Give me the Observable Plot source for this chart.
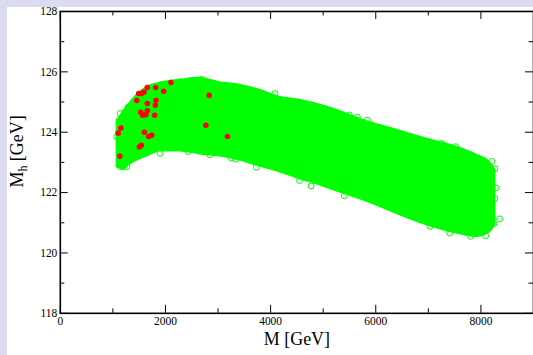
<!DOCTYPE html>
<html>
<head>
<meta charset="utf-8">
<script src="https://cdn.jsdelivr.net/npm/d3@7"></script>
<script src="https://cdn.jsdelivr.net/npm/@observablehq/plot@0.6"></script>
<style>
  html, body { margin: 0; padding: 0; background: #dcdcf0; overflow: hidden; width: 533px; height: 355px; }
  #chart { position: absolute; left: 7px; top: 7px; width: 526px; height: 348px; background: white; }
  #chart svg { overflow: visible; }
</style>
</head>
<body>
<div id="chart"></div>
<script>
// Envelope of the dense green scan
const bandX  = [1081,1137,1194,1327,1460,1649,1896,2275,2654,3033,3412,3791,4171,4550,4929,5251,5744,6313,6957,7583,7905,8151,8265];
const bandHi = [124.40,124.50,124.67,124.96,125.23,125.49,125.62,125.72,125.79,125.64,125.56,125.39,125.16,125.06,124.90,124.73,124.40,124.11,123.78,123.48,123.25,123.02,122.75];
const bandLo = [122.85,122.82,122.79,122.95,123.08,123.21,123.38,123.38,123.28,123.21,123.08,122.88,122.69,122.46,122.26,122.06,121.77,121.37,120.94,120.64,120.54,120.67,120.94];

// Individually visible green open circles along the edge
const edgeX = [8355,8265,4082,5498,5650,5839,7520,7255,8208,8284,8265,8246,8089,7805,7406,7033,3729,3336,4550,4771,5403,1137,1264,1074,1137,1295,2464,2686,2275,2906,1200,1896,2432,2844,3255];
const edgeY = [121.13,122.79,125.28,124.57,124.50,124.40,123.52,123.63,123.03,122.16,121.80,120.97,120.57,120.55,120.66,120.88,122.84,123.11,122.40,122.22,121.89,122.86,122.86,123.85,124.62,124.84,125.70,125.75,125.67,125.61,122.86,123.30,123.36,123.25,123.14];

// Red points
const redX = [2104,1655,1814,1492,1549,1592,1966,1454,1820,1655,1807,1655,1530,1568,1625,1795,2830,2768,3179,1151,1100,1598,1681,1738,1541,1503,1132];
const redY = [125.65,125.48,125.48,125.28,125.28,125.33,125.36,125.05,125.06,124.95,124.89,124.71,124.66,124.56,124.58,124.56,125.22,124.23,123.86,124.14,123.97,124.00,123.86,123.90,123.57,123.51,123.20];

const xMajor = [0,2000,4000,6000,8000];
const xMinor = [1000,3000,5000,7000];
const yMajor = [118,120,122,124,126,128];
const yMinor = [119,121,123,125,127];

const band = bandX.map((x,i)=>({x, lo: bandLo[i], hi: bandHi[i]}));
const edge = edgeX.map((x,i)=>({x, y: edgeY[i]}));
const red = redX.map((x,i)=>({x, y: redY[i]}));

const W = 528, H = 348, mL = 53, mR = 0, mT = 4, mB = 41;
const iw = W - mL - mR, ih = H - mT - mB;
const font = "'Liberation Serif', 'Times New Roman', serif";
const green = "#00ff00";

const plot = Plot.plot({
  width: W, height: H,
  marginLeft: mL, marginRight: mR, marginTop: mT, marginBottom: mB,
  style: {fontFamily: font, background: "white", overflow: "visible"},
  x: {domain: [0, 9000], label: null},
  y: {domain: [118, 128], label: null},
  marks: [
    Plot.areaY(band, {x: "x", y1: "lo", y2: "hi", fill: green, stroke: green, strokeWidth: 2, curve: "monotone-x"}),
    Plot.dot(edge, {x: "x", y: "y", r: 3, stroke: green, strokeWidth: 1, fill: "none"}),
    Plot.dot(red, {x: "x", y: "y", r: 2.8, fill: "#ff0000", stroke: "none"}),
    Plot.tickX(xMajor, {x: d => d, insetTop: ih - 8, stroke: "black", strokeWidth: 1}),
    Plot.tickX(xMajor, {x: d => d, insetBottom: ih - 8, stroke: "black", strokeWidth: 1}),
    Plot.tickX(xMinor, {x: d => d, insetTop: ih - 4.5, stroke: "black", strokeWidth: 1}),
    Plot.tickX(xMinor, {x: d => d, insetBottom: ih - 4.5, stroke: "black", strokeWidth: 1}),
    Plot.tickY(yMajor, {y: d => d, insetRight: iw - 8, stroke: "black", strokeWidth: 1}),
    Plot.tickY(yMajor, {y: d => d, insetLeft: iw - 8, stroke: "black", strokeWidth: 1}),
    Plot.tickY(yMinor, {y: d => d, insetRight: iw - 4.5, stroke: "black", strokeWidth: 1}),
    Plot.tickY(yMinor, {y: d => d, insetLeft: iw - 4.5, stroke: "black", strokeWidth: 1}),
    Plot.frame({stroke: "black", strokeWidth: 1.6}),
    Plot.axisX({ticks: xMajor, tickSize: 0, tickPadding: 3.5, fontSize: 11.5, fontFamily: font, fill: "black", label: null, tickFormat: d => String(d)}),
    Plot.axisY({ticks: yMajor, tickSize: 0, tickPadding: 3, fontSize: 11.5, fontFamily: font, fill: "black", label: null, tickFormat: d => String(d)}),
    Plot.text(["M [GeV]"], {frameAnchor: "bottom", dy: 32, text: d => d, fontSize: 18, fontFamily: font, fill: "black"})
  ]
});

document.getElementById("chart").appendChild(plot);

// y-axis title with subscript
const svg = d3.select(plot);
const t = svg.append("text")
  .attr("transform", `translate(${15.7},${145}) rotate(-90)`)
  .attr("text-anchor", "middle")
  .attr("font-family", font)
  .attr("font-size", 18)
  .attr("fill", "black");
t.append("tspan").text("M");
t.append("tspan").attr("font-size", 12).attr("dy", 4).text("h");
t.append("tspan").attr("dy", -4).text(" [GeV]");
</script>
</body>
</html>
